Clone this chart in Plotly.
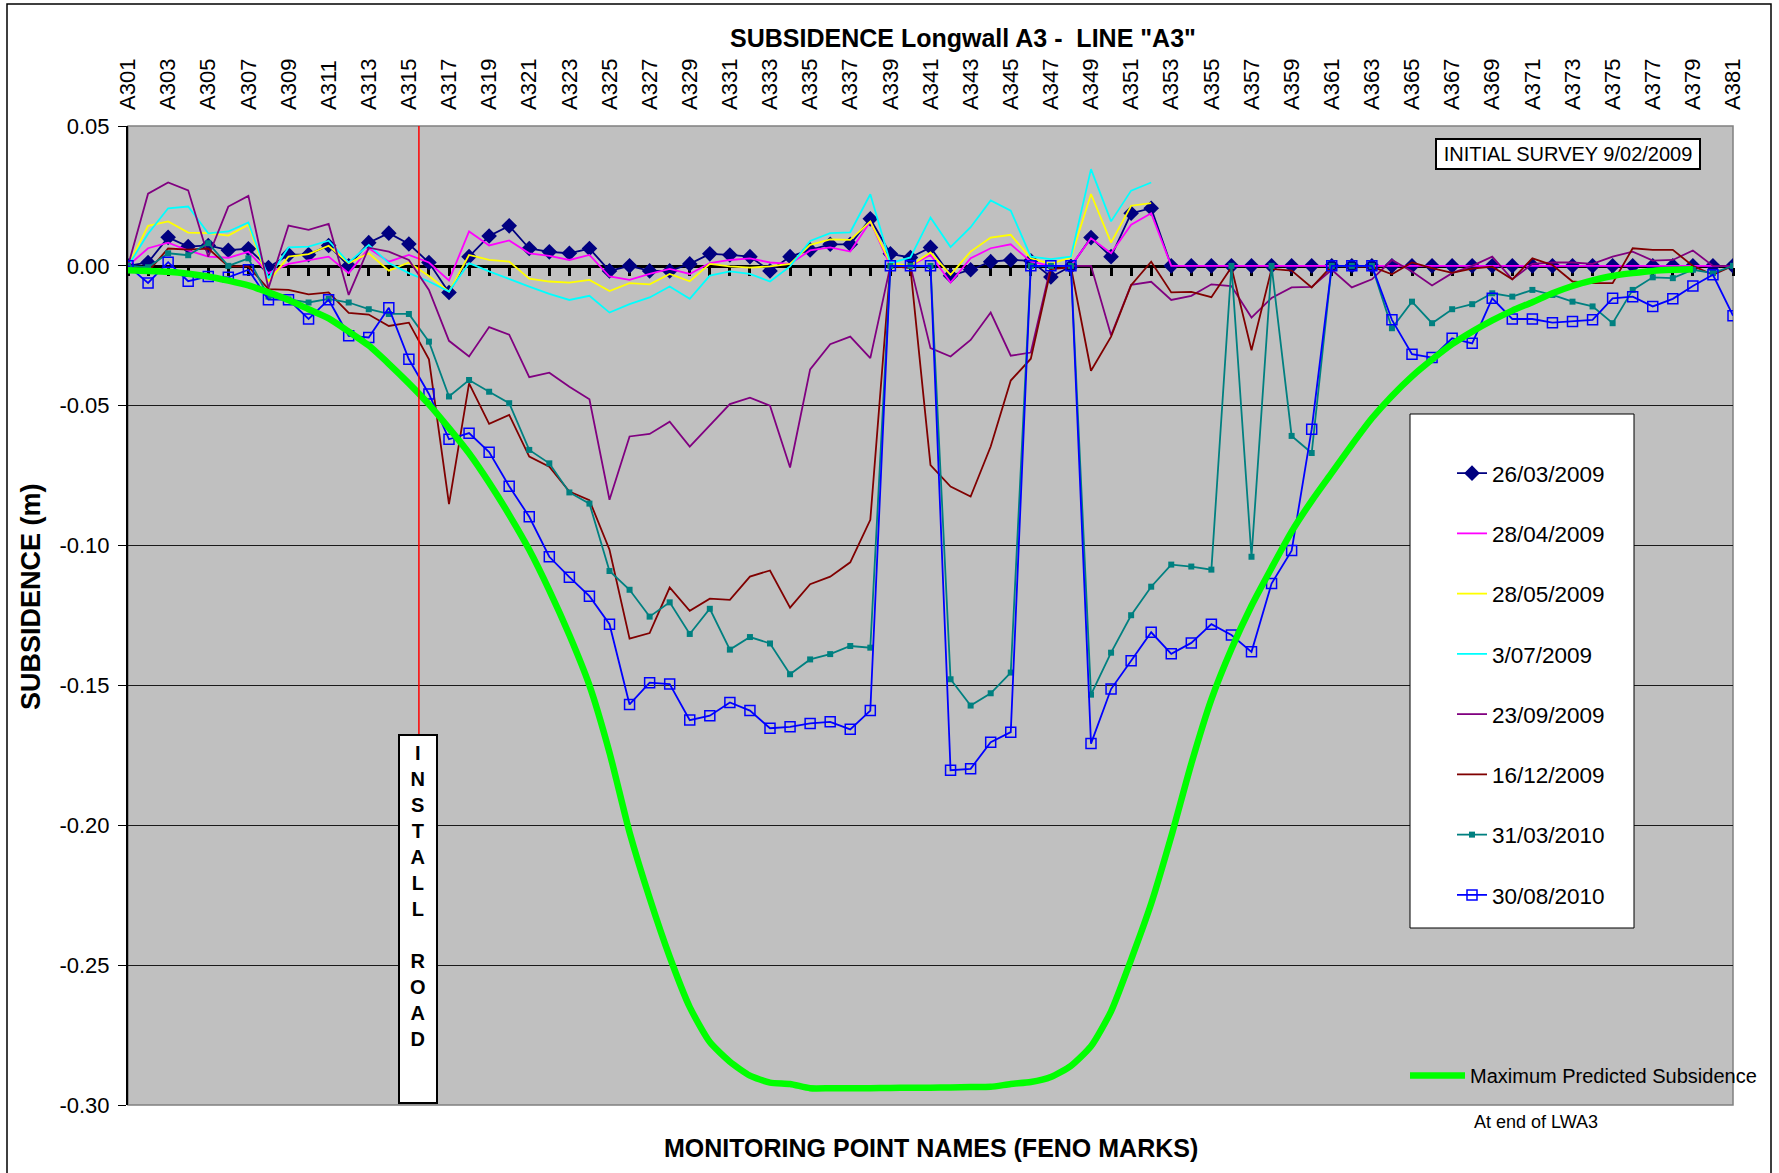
import plotly.graph_objects as go

# ---------------- data ----------------
categories = ["A301", "A302", "A303", "A304", "A305", "A306", "A307", "A308", "A309", "A310",
              "A311", "A312", "A313", "A314", "A315", "A316", "A317", "A318", "A319", "A320",
              "A321", "A322", "A323", "A324", "A325", "A326", "A327", "A328", "A329", "A330",
              "A331", "A332", "A333", "A334", "A335", "A336", "A337", "A338", "A339", "A340",
              "A341", "A342", "A343", "A344", "A345", "A346", "A347", "A348", "A349", "A350",
              "A351", "A352", "A353", "A354", "A355", "A356", "A357", "A358", "A359", "A360",
              "A361", "A362", "A363", "A364", "A365", "A366", "A367", "A368", "A369", "A370",
              "A371", "A372", "A373", "A374", "A375", "A376", "A377", "A378", "A379", "A380",
              "A381"]

s_26_03_2009 = [0.0000, 0.0012, 0.0102, 0.0069, 0.0073, 0.0056, 0.0061, -0.0006, 0.0040, 0.0040,
                0.0073, 0.0000, 0.0083, 0.0117, 0.0078, 0.0012, -0.0095, 0.0033, 0.0107, 0.0143,
                0.0062, 0.0050, 0.0045, 0.0062, -0.0018, 0.0000, -0.0018, -0.0018, 0.0007, 0.0043,
                0.0039, 0.0033, -0.0018, 0.0033, 0.0057, 0.0077, 0.0077, 0.0168, 0.0043, 0.0030,
                0.0066, -0.0035, -0.0014, 0.0015, 0.0021, 0.0018, -0.0040, -0.0002, 0.0101, 0.0033,
                0.0188, 0.0206, 0.0, 0.0, 0.0, 0.0, 0.0, 0.0, 0.0, 0.0,
                0.0, 0.0, 0.0, 0.0, 0.0, 0.0, 0.0, 0.0, 0.0, 0.0,
                0.0, 0.0, 0.0, 0.0, 0.0, 0.0, 0.0, 0.0, 0.0, 0.0, 0.0]

s_28_04_2009 = [0.0000, 0.0063, 0.0083, 0.0055, 0.0033, 0.0029, 0.0050, -0.0026, 0.0007, 0.0021,
                0.0033, -0.0026, 0.0063, 0.0015, 0.0039, 0.0012, -0.0052, 0.0123, 0.0073, 0.0091,
                0.0045, 0.0036, 0.0021, 0.0039, -0.0038, -0.0050, -0.0029, -0.0011, -0.0029, 0.0010,
                0.0021, 0.0027, 0.0012, 0.0007, 0.0055, 0.0066, 0.0051, 0.0159, 0.0000, 0.0000,
                0.0039, -0.0060, 0.0027, 0.0063, 0.0077, 0.0015, 0.0000, 0.0000, 0.0099, 0.0045,
                0.0147, 0.0188, 0.0, 0.0, 0.0, 0.0, 0.0, 0.0, 0.0, 0.0,
                0.0, 0.0, 0.0, 0.0, 0.0, 0.0, 0.0, 0.0, 0.0, 0.0,
                0.0, 0.0, 0.0, 0.0, 0.0, 0.0, 0.0, 0.0, 0.0, 0.0, 0.0]

s_28_05_2009 = [0.0000, 0.0143, 0.0159, 0.0119, 0.0117, 0.0108, 0.0147, -0.0056, 0.0033, 0.0042,
                0.0072, 0.0010, 0.0045, -0.0017, 0.0012, -0.0036, -0.0092, 0.0039, 0.0021, 0.0015,
                -0.0046, -0.0056, -0.0060, -0.0050, -0.0090, -0.0062, -0.0066, -0.0029, -0.0055, 0.0007,
                -0.0002, -0.0006, -0.0002, 0.0007, 0.0075, 0.0095, 0.0093, 0.0159, 0.0010, 0.0000,
                0.0048, -0.0032, 0.0051, 0.0101, 0.0111, 0.0027, 0.0007, 0.0030, 0.0257, 0.0083,
                0.0215, 0.0224]

s_3_07_2009 = [0.0000, 0.0115, 0.0206, 0.0212, 0.0116, 0.0123, 0.0155, -0.0044, 0.0066, 0.0069,
               0.0090, 0.0012, 0.0075, 0.0010, -0.0026, -0.0056, -0.0092, 0.0010, -0.0020, -0.0048,
               -0.0074, -0.0100, -0.0122, -0.0107, -0.0167, -0.0137, -0.0113, -0.0074, -0.0118, -0.0035,
               -0.0020, -0.0029, -0.0056, -0.0002, 0.0089, 0.0117, 0.0120, 0.0256, 0.0010, 0.0030,
               0.0173, 0.0067, 0.0138, 0.0234, 0.0197, 0.0033, 0.0024, 0.0033, 0.0346, 0.0159,
               0.0269, 0.0298]

s_23_09_2009 = [0.0000, 0.0258, 0.0298, 0.0270, 0.0033, 0.0212, 0.0250, -0.0080, 0.0144, 0.0129,
                0.0150, -0.0104, 0.0065, 0.0051, 0.0021, -0.0086, -0.0268, -0.0324, -0.0219, -0.0246,
                -0.0398, -0.0382, -0.0432, -0.0477, -0.0836, -0.0610, -0.0601, -0.0557, -0.0646, -0.0569,
                -0.0494, -0.0471, -0.0500, -0.0721, -0.0370, -0.0280, -0.0253, -0.0330, 0.0000, 0.0000,
                -0.0294, -0.0324, -0.0265, -0.0167, -0.0321, -0.0310, 0.0000, 0.0000, 0.0000, -0.0248,
                -0.0068, -0.0057, -0.0122, -0.0107, -0.0066, -0.0072, -0.0185, -0.0115, -0.0077, -0.0075,
                -0.0014, -0.0077, -0.0048, 0.0021, -0.0020, -0.0070, -0.0026, 0.0000, 0.0033, -0.0048,
                0.0007, 0.0012, 0.0012, 0.0007, 0.0033, 0.0051, 0.0019, 0.0021, 0.0055, 0.0000, 0.0000]

s_16_12_2009 = [0.0000, -0.0020, 0.0062, 0.0058, 0.0062, -0.0002, -0.0002, -0.0083, -0.0086, -0.0102,
                -0.0095, -0.0168, -0.0174, -0.0215, -0.0203, -0.0334, -0.0852, -0.0420, -0.0565, -0.0533,
                -0.0682, -0.0718, -0.0807, -0.0838, -0.1015, -0.1333, -0.1313, -0.1150, -0.1233, -0.1190,
                -0.1194, -0.1111, -0.1089, -0.1222, -0.1138, -0.1111, -0.1060, -0.0908, 0.0000, -0.0008,
                -0.0712, -0.0789, -0.0825, -0.0646, -0.0410, -0.0332, -0.0012, -0.0005, -0.0375, -0.0253,
                -0.0069, 0.0015, -0.0095, -0.0093, -0.0112, -0.0005, -0.0302, -0.0011, -0.0017, -0.0077,
                0.0000, -0.0003, -0.0003, -0.0030, 0.0012, -0.0008, -0.0025, -0.0010, -0.0003, -0.0048,
                0.0027, 0.0003, -0.0056, -0.0062, -0.0062, 0.0063, 0.0057, 0.0057, 0.0000, -0.0032, 0.0000]

s_31_03_2010 = [0.0000, -0.0005, 0.0045, 0.0038, 0.0081, 0.0000, 0.0027, -0.0110, -0.0120, -0.0131,
                -0.0118, -0.0131, -0.0155, -0.0172, -0.0172, -0.0271, -0.0467, -0.0408, -0.0450, -0.0491,
                -0.0658, -0.0706, -0.0810, -0.0850, -0.1091, -0.1158, -0.1254, -0.1203, -0.1316, -0.1226,
                -0.1372, -0.1327, -0.1350, -0.1460, -0.1407, -0.1388, -0.1359, -0.1365, 0.0000, 0.0000,
                0.0000, -0.1478, -0.1572, -0.1528, -0.1454, 0.0000, 0.0000, 0.0000, -0.1533, -0.1383,
                -0.1249, -0.1147, -0.1068, -0.1075, -0.1086, 0.0000, -0.1040, 0.0000, -0.0608, -0.0669,
                0.0000, 0.0000, 0.0000, -0.0223, -0.0128, -0.0205, -0.0155, -0.0137, -0.0098, -0.0110,
                -0.0086, -0.0104, -0.0128, -0.0145, -0.0205, -0.0086, -0.0041, -0.0044, -0.0014, -0.0026, 0.0000]

s_30_08_2010 = [0.0000, -0.0061, 0.0013, -0.0055, -0.0038, -0.0041, -0.0014, -0.0121, -0.0121, -0.0190,
                -0.0121, -0.0250, -0.0256, -0.0150, -0.0334, -0.0458, -0.0620, -0.0598, -0.0666, -0.0788,
                -0.0897, -0.1040, -0.1113, -0.1181, -0.1281, -0.1568, -0.1490, -0.1495, -0.1624, -0.1608,
                -0.1561, -0.1590, -0.1653, -0.1648, -0.1636, -0.1630, -0.1657, -0.1590, 0.0000, 0.0000,
                0.0000, -0.1803, -0.1798, -0.1703, -0.1667, 0.0000, 0.0000, 0.0000, -0.1708, -0.1513,
                -0.1412, -0.1310, -0.1387, -0.1348, -0.1281, -0.1320, -0.1380, -0.1136, -0.1018, -0.0584,
                0.0000, 0.0000, 0.0000, -0.0193, -0.0316, -0.0328, -0.0259, -0.0277, -0.0116, -0.0190,
                -0.0190, -0.0203, -0.0199, -0.0193, -0.0116, -0.0110, -0.0145, -0.0118, -0.0072, -0.0032, -0.0178]

max_predicted = [-0.0016, -0.0018, -0.0021, -0.0028, -0.0038, -0.0053, -0.0070, -0.0095, -0.0122, -0.0155,
                 -0.0188, -0.0235, -0.0285, -0.0350, -0.0420, -0.0495, -0.0580, -0.0670, -0.0775, -0.0890,
                 -0.1015, -0.1160, -0.1320, -0.1500, -0.1740, -0.2025, -0.2260, -0.2470, -0.2650, -0.2775,
                 -0.2845, -0.2895, -0.2920, -0.2925, -0.2940, -0.2940, -0.2940, -0.2940, -0.2939, -0.2938,
                 -0.2938, -0.2937, -0.2936, -0.2935, -0.2925, -0.2918, -0.2900, -0.2860, -0.2790, -0.2665,
                 -0.2480, -0.2280, -0.2040, -0.1780, -0.1550, -0.1370, -0.1215, -0.1080, -0.0950, -0.0840,
                 -0.0740, -0.0640, -0.0545, -0.0465, -0.0395, -0.0335, -0.0280, -0.0235, -0.0195, -0.0160,
                 -0.0130, -0.0098, -0.0072, -0.0052, -0.0036, -0.0026, -0.0018, -0.0014, -0.0012]

y_tickvals = [0.05, 0.00, -0.05, -0.10, -0.15, -0.20, -0.25, -0.30]
y_ticktext = ["0.05", "0.00", "-0.05", "-0.10", "-0.15", "-0.20", "-0.25", "-0.30"]
x_ticklabels = categories[::2]

# ---------------- layout helpers ----------------
W, H = 1779, 1173
L, R, T, B = 128, 1733, 126, 1105


def xp(px):
    return (px - L) / (R - L)


def yp(py):
    return (B - py) / (B - T)


FONT = "Liberation Sans, Arial, Helvetica, sans-serif"

fig = go.Figure()

series = [
    ("26/03/2009", s_26_03_2009, "#000080", dict(symbol="diamond", size=12, color="#000080")),
    ("28/04/2009", s_28_04_2009, "#FF00FF", None),
    ("28/05/2009", s_28_05_2009, "#FFFF00", None),
    ("3/07/2009", s_3_07_2009, "#00FFFF", None),
    ("23/09/2009", s_23_09_2009, "#800080", None),
    ("16/12/2009", s_16_12_2009, "#800000", None),
    ("31/03/2010", s_31_03_2010, "#008080", dict(symbol="square", size=6, color="#008080")),
    ("30/08/2010", s_30_08_2010, "#0000FF",
     dict(symbol="square-open", size=10, color="#0000FF", line=dict(width=1.5, color="#0000FF"))),
]

for name, vals, col, marker in series:
    kw = dict(marker=marker) if marker else {}
    fig.add_trace(go.Scatter(
        x=categories[:len(vals)], y=vals, name=name,
        mode="lines+markers" if marker else "lines",
        line=dict(color=col, width=1.8),
        legendgroup=name, legend="legend", hoverinfo="skip", **kw))

fig.add_trace(go.Scatter(
    x=categories[:len(max_predicted)], y=max_predicted, name="Maximum Predicted Subsidence",
    mode="lines", line=dict(color="#00FF00", width=6.5, shape="spline", smoothing=0.6),
    legend="legend2", hoverinfo="skip"))

# helper invisible trace that carries the zero-level category axis with tick marks
fig.add_trace(go.Scatter(x=[0, 80], y=[0, 0], xaxis="x2", yaxis="y", mode="lines",
                         line=dict(width=0, color="rgba(0,0,0,0)"), showlegend=False,
                         hoverinfo="skip"))

y_zero_pos = (0 - (-0.30)) / (0.05 - (-0.30))

fig.update_layout(
    width=W, height=H,
    margin=dict(l=L, r=W - R, t=T, b=H - B, autoexpand=False),
    paper_bgcolor="white", plot_bgcolor="#C0C0C0",
    font=dict(family=FONT, color="black"),
    title=dict(text='<b>SUBSIDENCE Longwall A3 - &nbsp;LINE "A3"</b>', x=xp(963), xref="paper",
               xanchor="center", y=1 - 38 / H, yref="container", yanchor="middle",
               font=dict(size=25, family=FONT, color="black")),
    xaxis=dict(type="category", range=[0, 80], side="top", tickmode="array",
               tickvals=x_ticklabels, ticktext=x_ticklabels, tickangle=-90,
               tickfont=dict(size=22, family=FONT, color="black"), ticks="",
               showgrid=False, showline=False, zeroline=False, ticklabelstandoff=15),
    xaxis2=dict(overlaying="x", anchor="free", position=y_zero_pos, side="bottom",
                range=[0, 80], tickmode="linear", tick0=0, dtick=1, ticks="outside",
                ticklen=8, tickwidth=3, tickcolor="black", showline=True, linewidth=3,
                linecolor="black", showticklabels=False, showgrid=False, zeroline=False,
                layer="below traces"),
    yaxis=dict(range=[-0.30, 0.05], tickmode="array", tickvals=y_tickvals, ticktext=y_ticktext,
               tickfont=dict(size=22, family=FONT, color="black"), ticks="outside", ticklen=8,
               tickcolor="black", showline=True, linecolor="black", linewidth=2,
               showgrid=True, gridcolor="#1a1a1a", gridwidth=1, zeroline=False,
               ticklabelstandoff=4),
    legend=dict(x=xp(1452), y=yp(452), xanchor="left", yanchor="top",
                bgcolor="rgba(0,0,0,0)", borderwidth=0,
                font=dict(size=22.5, family=FONT, color="black"), tracegroupgap=28),
    legend2=dict(x=xp(1405), y=yp(1056), xanchor="left", yanchor="top",
                 bgcolor="rgba(0,0,0,0)", borderwidth=0, itemwidth=55,
                 font=dict(size=20, family=FONT, color="black")),
    showlegend=True,
)

shapes = [
    # plot area border
    dict(type="rect", xref="paper", yref="paper", x0=0, x1=1, y0=0, y1=1,
         line=dict(color="#808080", width=1.5), layer="below"),
    # outer chart border
    dict(type="rect", xref="paper", yref="paper", x0=xp(7), x1=xp(1771), y0=yp(1190), y1=yp(4),
         line=dict(color="black", width=1.5), fillcolor="rgba(0,0,0,0)", layer="above"),
    # install road line
    dict(type="line", xref="x", yref="paper", x0=14.5, x1=14.5, y0=1, y1=yp(735),
         line=dict(color="#FF0000", width=1.5), layer="above"),
    # install road box
    dict(type="rect", xref="paper", yref="paper", x0=xp(399), x1=xp(437), y0=yp(1103), y1=yp(735),
         line=dict(color="black", width=2), fillcolor="white", layer="above"),
    # legend box
    dict(type="rect", xref="paper", yref="paper", x0=xp(1410), x1=xp(1634), y0=yp(928), y1=yp(414),
         line=dict(color="black", width=1), fillcolor="white", layer="above"),
]

annotations = [
    dict(text="INITIAL SURVEY 9/02/2009", xref="paper", yref="paper", x=xp(1568), y=yp(154),
         xanchor="center", yanchor="middle", showarrow=False,
         font=dict(size=20, family=FONT, color="black"), bgcolor="white",
         bordercolor="black", borderwidth=2, borderpad=3, width=256),
    dict(text="<b>I<br>N<br>S<br>T<br>A<br>L<br>L<br> <br>R<br>O<br>A<br>D</b>",
         xref="paper", yref="paper", x=xp(418), y=yp(896), xanchor="center", yanchor="middle",
         showarrow=False, font=dict(size=20, family=FONT, color="black")),
    dict(text="<b>MONITORING POINT NAMES (FENO MARKS)</b>", xref="paper", yref="paper",
         x=xp(931), y=yp(1148), xanchor="center", yanchor="middle", showarrow=False,
         font=dict(size=25, family=FONT, color="black")),
    dict(text="<b>SUBSIDENCE (m)</b>", xref="paper", yref="paper", x=xp(31), y=yp(597),
         xanchor="center", yanchor="middle", textangle=-90, showarrow=False,
         font=dict(size=27, family=FONT, color="black")),
    dict(text="At end of LWA3", xref="paper", yref="paper", x=xp(1536), y=yp(1122),
         xanchor="center", yanchor="middle", showarrow=False,
         font=dict(size=18, family=FONT, color="black")),
]

fig.update_layout(shapes=shapes, annotations=annotations)

fig.write_html("out.html", config={"displayModeBar": False},
               post_script="document.body.style.margin='0';document.body.style.overflow='hidden';")
